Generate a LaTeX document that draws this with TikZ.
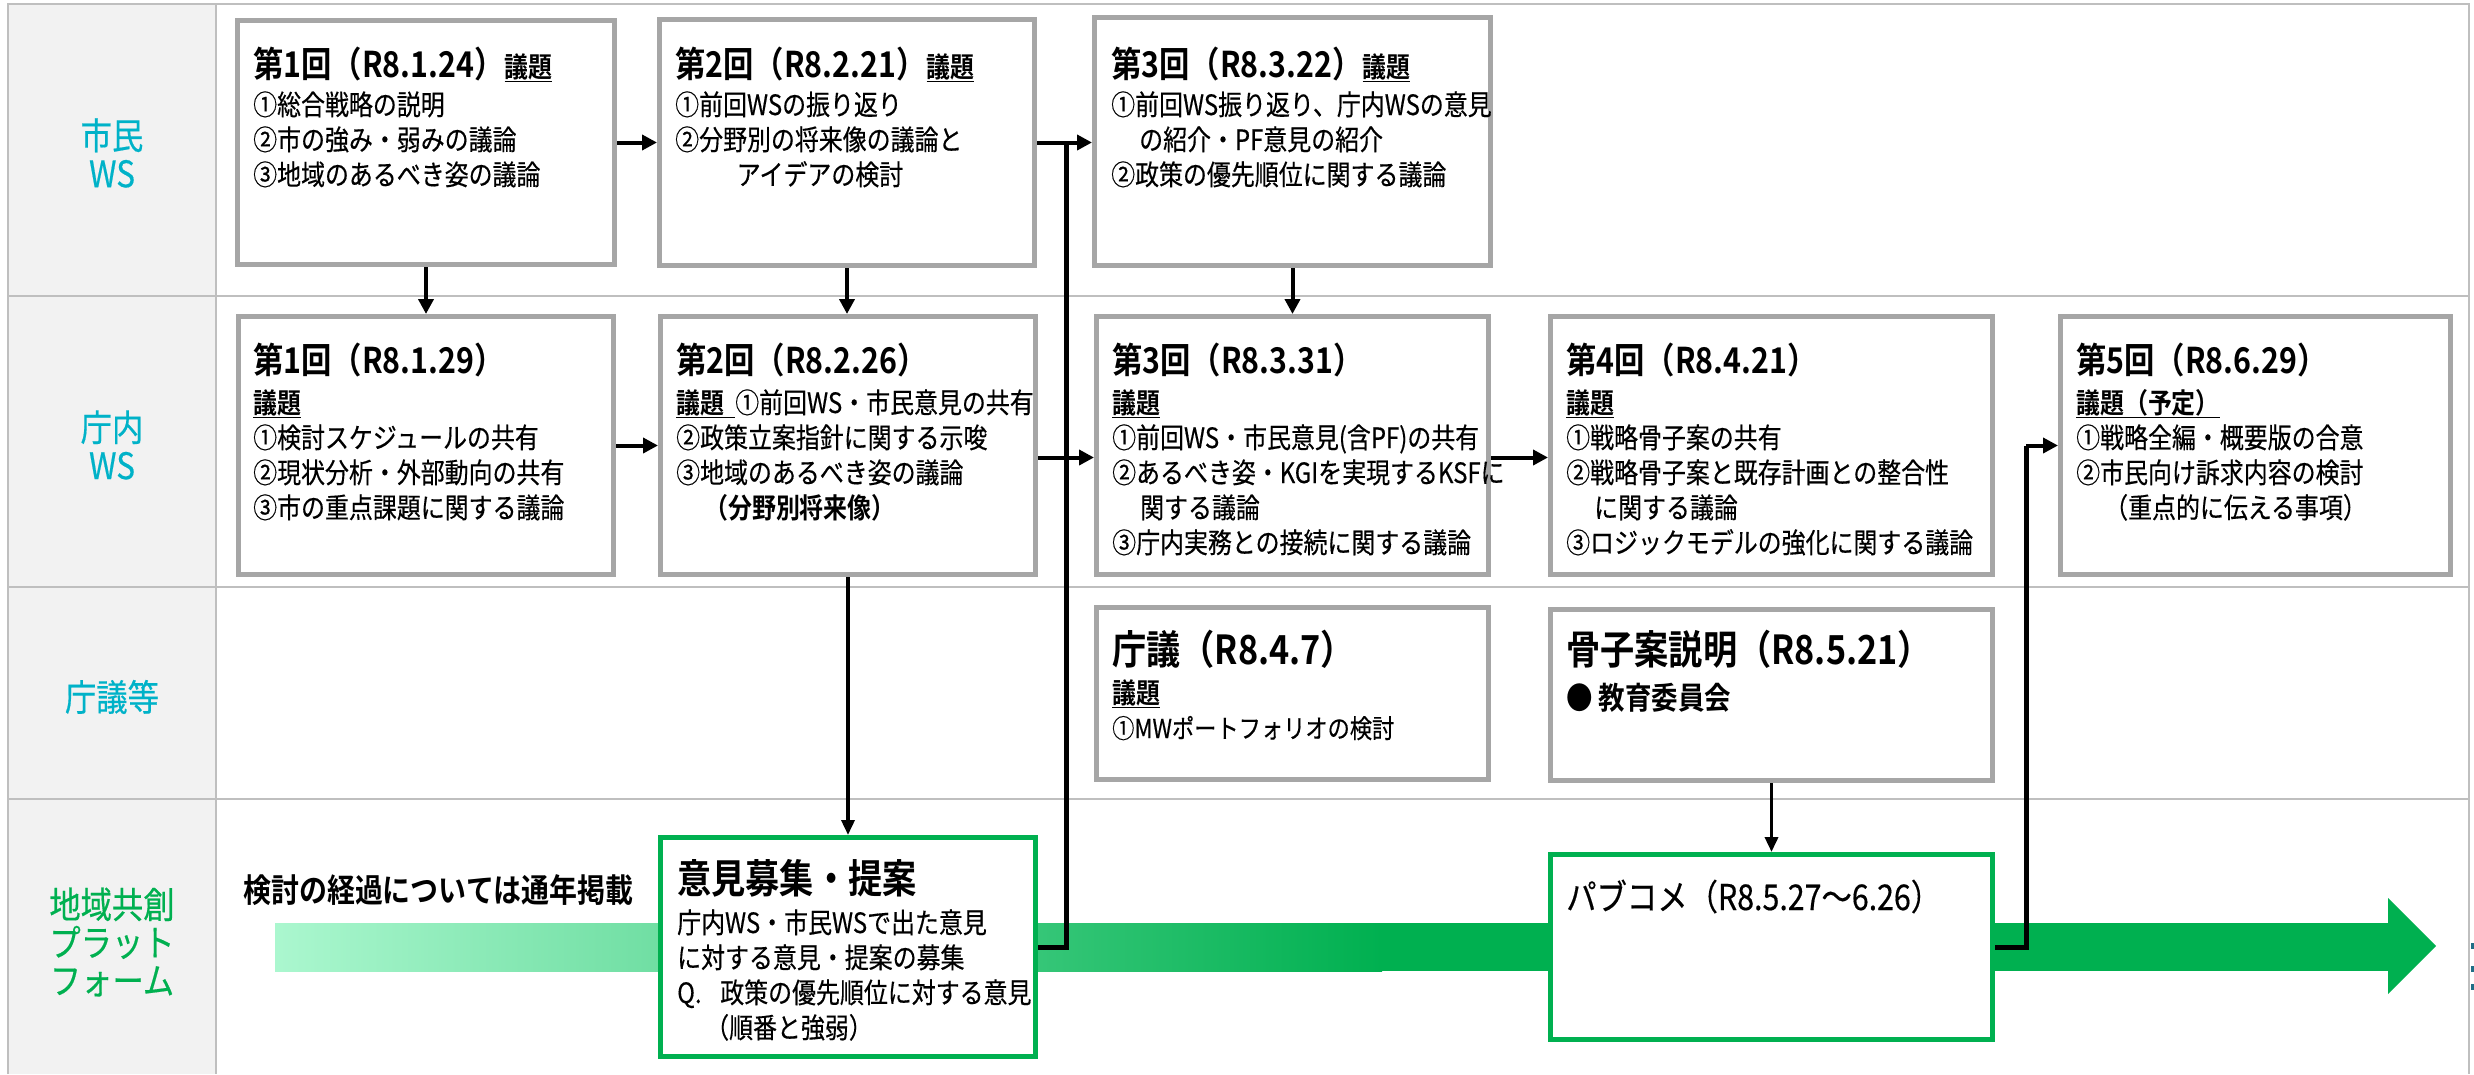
\documentclass[tikz,border=0pt]{standalone}
\usepackage{fontspec}
\setmainfont{Noto Sans CJK JP}[BoldFont={Noto Sans CJK JP Bold}, FakeStretch=0.855, UprightFeatures={FakeBold=0.4}]
\usetikzlibrary{arrows.meta,calc}
\definecolor{labteal}{RGB}{0,178,200}
\definecolor{pfgreen}{HTML}{00B050}
\definecolor{mintc}{HTML}{ABF7CF}
\definecolor{boxgray}{HTML}{A6A6A6}
\definecolor{gridgray}{HTML}{BFBFBF}
\definecolor{labelbg}{HTML}{F2F2F2}
\definecolor{markteal}{HTML}{1F6E86}
\begin{document}
\begin{tikzpicture}[x=1pt,y=-1pt,
  graybox/.style={draw=boxgray, line width=5pt, fill=white, inner sep=0pt, rectangle},
  greenbox/.style={draw=pfgreen, line width=5pt, fill=white, inner sep=0pt, rectangle},
  conn/.style={line width=4pt, -{Triangle[length=15pt,width=15pt]}},
  thinconn/.style={line width=3.5pt, -{Triangle[length=15pt,width=13pt]}},
  loopline/.style={line width=5pt},
  ttl/.style={anchor=base west, inner sep=0pt, font=\fontsize{35.5}{40}\selectfont\bfseries},
  bigttl/.style={anchor=base west, inner sep=0pt, font=\fontsize{40}{44}\selectfont\bfseries},
  bdy/.style={anchor=base west, inner sep=0pt, text width=480pt, align=left, font=\fontsize{28}{35}\selectfont},
  rowlab/.style={align=center, inner sep=0pt, font=\fontsize{36.6}{38}\selectfont},
  gridline/.style={draw=gridgray, line width=2.5pt}
]
\useasboundingbox (0,0) rectangle (2474,1074);
% table background
\fill[labelbg] (8,4) rectangle (216,1074);
\draw[gridline] (8,1074) -- (8,4) -- (2469,4) -- (2469,1074);
\draw[gridline] (216,4) -- (216,1074);
\draw[gridline] (8,296) -- (2469,296);
\draw[gridline] (8,587) -- (2469,587);
\draw[gridline] (8,799) -- (2469,799);
% cut-off marks at right edge
\fill[markteal] (2471,943) rectangle (2474,949);
\fill[markteal] (2471,966) rectangle (2474,972);
\fill[markteal] (2471,984) rectangle (2474,990);

% row labels
\node[rowlab, text=labteal] (lab1) at (112,153) {市民\\WS};
\node[rowlab, text=labteal] (lab2) at (112,445) {庁内\\WS};
\node[rowlab, text=labteal] (lab3) at (112,697) {庁議等};
\node[rowlab, text=pfgreen] (lab4) at (112,942) {地域共創\\プラット\\フォーム};

% big platform arrow
\shade[left color=mintc, right color=pfgreen] (275,923) rectangle (1382,971);
\fill[pfgreen] (1381,923) rectangle (2389,971);
\fill[pfgreen] (2388,898) -- (2436,946) -- (2388,994) -- cycle;
\node[anchor=west, inner sep=0pt, font=\fontsize{32.7}{36}\selectfont\bfseries] (note) at (243,890) {検討の経過については通年掲載};

% boxes row 1
\node[graybox, minimum width=377pt, minimum height=244pt] (b1a) at (426,142.5) {};
\node[graybox, minimum width=375pt, minimum height=246pt] (b1b) at (847,142.5) {};
\node[graybox, minimum width=396pt, minimum height=248pt] (b1c) at (1292.5,141.5) {};
% boxes row 2
\node[graybox, minimum width=375pt, minimum height=258pt] (b2a) at (426,445.5) {};
\node[graybox, minimum width=375pt, minimum height=258pt] (b2b) at (848,445.5) {};
\node[graybox, minimum width=392pt, minimum height=258pt] (b2c) at (1292.5,445.5) {};
\node[graybox, minimum width=442pt, minimum height=258pt] (b2d) at (1771.5,445.5) {};
\node[graybox, minimum width=390pt, minimum height=258pt] (b2e) at (2255.5,445.5) {};
% boxes row 3
\node[graybox, minimum width=392pt, minimum height=172pt] (b3a) at (1292.5,693.5) {};
\node[graybox, minimum width=442pt, minimum height=171pt] (b3b) at (1771.5,695) {};
% boxes row 4
\node[greenbox, minimum width=375pt, minimum height=219pt] (b4a) at (848,947) {};
\node[greenbox, minimum width=442pt, minimum height=185pt] (b4b) at (1771.5,947) {};

% texts row 1
\node[ttl] (t1a) at (253,77) {第1回（R8.1.24）{\fontsize{28}{28}\selectfont\underline{議題}}};
\node[bdy] (d1a) at (253,115) {①総合戦略の説明\\②市の強み・弱みの議論\\③地域のあるべき姿の議論};
\node[ttl] (t1b) at (675,77) {第2回（R8.2.21）{\fontsize{28}{28}\selectfont\underline{議題}}};
\node[bdy] (d1b) at (675,115) {①前回WSの振り返り\\②分野別の将来像の議論と\\\hspace*{2.2em}アイデアの検討};
\node[ttl] (t1c) at (1111,77) {第3回（R8.3.22）{\fontsize{28}{28}\selectfont\underline{議題}}};
\node[bdy] (d1c) at (1111,115) {①前回WS振り返り、庁内WSの意見\\\hspace*{1em}の紹介・PF意見の紹介\\②政策の優先順位に関する議論};

% texts row 2
\node[ttl] (t2a) at (253,373) {第1回（R8.1.29）};
\node[bdy] (d2a) at (253,413) {\textbf{\underline{議題}}\\①検討スケジュールの共有\\②現状分析・外部動向の共有\\③市の重点課題に関する議論};
\node[ttl] (t2b) at (676,373) {第2回（R8.2.26）};
\node[bdy] (d2b) at (676,413) {\textbf{\underline{議題\hspace{0.4em}}}①前回WS・市民意見の共有\\②政策立案指針に関する示唆\\③地域のあるべき姿の議論\\\hspace*{1em}\textbf{（分野別将来像）}};
\node[ttl] (t2c) at (1112,373) {第3回（R8.3.31）};
\node[bdy] (d2c) at (1112,413) {\textbf{\underline{議題}}\\①前回WS・市民意見(含PF)の共有\\②あるべき姿・KGIを実現するKSFに\\\hspace*{1em}関する議論\\③庁内実務との接続に関する議論};
\node[ttl] (t2d) at (1566,373) {第4回（R8.4.21）};
\node[bdy] (d2d) at (1566,413) {\textbf{\underline{議題}}\\①戦略骨子案の共有\\②戦略骨子案と既存計画との整合性\\\hspace*{1em}に関する議論\\③ロジックモデルの強化に関する議論};
\node[ttl] (t2e) at (2076,373) {第5回（R8.6.29）};
\node[bdy] (d2e) at (2076,413) {\textbf{\underline{議題（予定）}}\\①戦略全編・概要版の合意\\②市民向け訴求内容の検討\\\hspace*{1em}（重点的に伝える事項）};

% texts row 3
\node[bigttl] (t3a) at (1112,664) {庁議（R8.4.7）};
\node[bdy] (d3a) at (1112,703) {\textbf{\underline{議題}}\\{\fontsize{26}{34}\selectfont ①MWポートフォリオの検討}};
\node[bigttl] (t3b) at (1566,664) {骨子案説明（R8.5.21）};
\node[anchor=base west, inner sep=0pt, font=\fontsize{31}{34}\selectfont\bfseries] (d3b) at (1566,709) {●\ 教育委員会};

% texts row 4
\node[bigttl] (t4a) at (677,893) {意見募集・提案};
\node[bdy] (d4a) at (677,933) {庁内WS・市民WSで出た意見\\に対する意見・提案の募集\\Q.\ \ 政策の優先順位に対する意見\\\hspace*{1em}（順番と強弱）};
\node[anchor=base west, inner sep=0pt, font=\fontsize{35.5}{40}\selectfont] (t4b) at (1566,910) {パブコメ（R8.5.27～6.26）};

% connectors
\coordinate (j1) at (1066,143);
\coordinate (j2) at (2026,445.5);
\draw[conn] (b1a.east) -- (b1b.west);
\draw[conn] (b1b.east) -- (b1b.east -| b1c.west);
\draw[conn] (b1a.south) -- (b2a.north);
\draw[conn] (b1b.south) -- (b1b.south |- b2b.north);
\draw[conn] (b1c.south) -- (b2c.north);
\draw[conn] (b2a.east) -- (b2b.west);
\draw[conn] ([yshift=-12pt]b2b.east) -- ([yshift=-12pt]b2c.west);
\draw[conn] ([yshift=-12pt]b2c.east) -- ([yshift=-12pt]b2d.west);
\draw[thinconn] (b2b.south) -- (b4a.north);
\draw[thinconn] (b3b.south) -- (b4b.north);
\draw[loopline] (b4a.east) -| (j1);
\draw[loopline] (b4b.east) -| (j2);
\draw[conn] (j2) -- (j2 -| b2e.west);
\end{tikzpicture}
\end{document}
